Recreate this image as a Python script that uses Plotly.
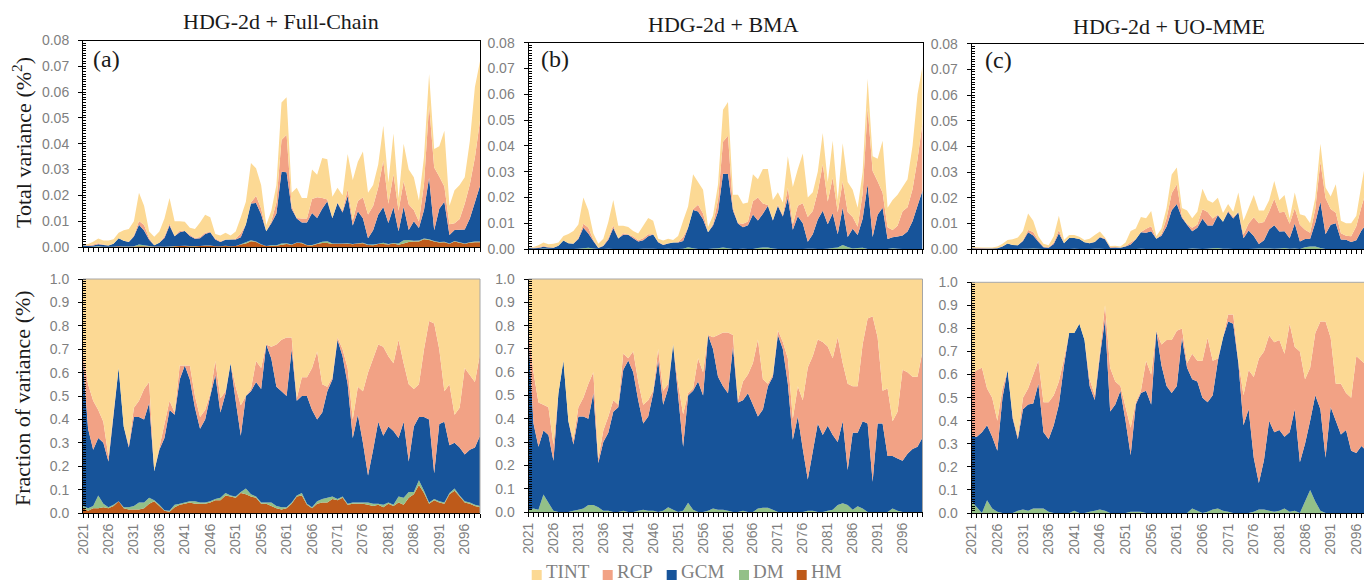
import plotly.graph_objects as go

YEARS = list(range(2021, 2101))
SOURCES = ["HM", "DM", "GCM", "RCP", "TINT"]          # stacking order, bottom to top
COLORS = {"TINT": "#FCD994", "RCP": "#F2A285", "GCM": "#17549A",
          "DM": "#93C088", "HM": "#BE5A1A"}
LEGEND_ORDER = ["TINT", "RCP", "GCM", "DM", "HM"]

# ---- HDG-2d + Full-Chain -------------------------------------------------
TOTAL_A = [0.0010, 0.0012, 0.0020, 0.0033, 0.0025, 0.0025, 0.0030, 0.0055, 0.0065, 0.0070,
           0.0100, 0.0210, 0.0160, 0.0060, 0.0040, 0.0060, 0.0110, 0.0190, 0.0100, 0.0100,
           0.0098, 0.0075, 0.0070, 0.0095, 0.0125, 0.0115, 0.0050, 0.0045, 0.0055, 0.0045,
           0.0060, 0.0115, 0.0175, 0.0325, 0.0305, 0.0240, 0.0085, 0.0140, 0.0240, 0.0560,
           0.0580, 0.0210, 0.0230, 0.0190, 0.0190, 0.0300, 0.0280, 0.0345, 0.0340, 0.0195,
           0.0230, 0.0200, 0.0360, 0.0260, 0.0330, 0.0370, 0.0210, 0.0240, 0.0320, 0.0470,
           0.0250, 0.0440, 0.0190, 0.0400, 0.0300, 0.0270, 0.0180, 0.0350, 0.0670, 0.0380,
           0.0390, 0.0450, 0.0160, 0.0220, 0.0240, 0.0270, 0.0410, 0.0620, 0.0720, 0.0740]
HM_A = [0.020, 0.010, 0.020, 0.020, 0.025, 0.020, 0.030, 0.050, 0.020, 0.015,
        0.015, 0.015, 0.020, 0.040, 0.050, 0.030, 0.010, 0.005, 0.025, 0.035,
        0.040, 0.045, 0.040, 0.040, 0.040, 0.045, 0.055, 0.055, 0.075, 0.070,
        0.065, 0.085, 0.080, 0.070, 0.065, 0.040, 0.040, 0.030, 0.020, 0.015,
        0.020, 0.040, 0.070, 0.075, 0.035, 0.020, 0.040, 0.045, 0.045, 0.060,
        0.055, 0.065, 0.035, 0.040, 0.040, 0.040, 0.035, 0.030, 0.035, 0.025,
        0.040, 0.030, 0.045, 0.035, 0.065, 0.080, 0.120, 0.085, 0.040, 0.055,
        0.045, 0.040, 0.080, 0.095, 0.070, 0.045, 0.040, 0.030, 0.025, 0.020]
DM_A = [0.010, 0.010, 0.010, 0.055, 0.015, 0.005, 0.005, 0.000, 0.005, 0.010,
        0.015, 0.030, 0.025, 0.025, 0.005, 0.005, 0.002, 0.005, 0.010, 0.005,
        0.005, 0.005, 0.010, 0.005, 0.005, 0.005, 0.005, 0.010, 0.010, 0.005,
        0.005, 0.005, 0.025, 0.010, 0.005, 0.005, 0.005, 0.015, 0.010, 0.010,
        0.005, 0.005, 0.005, 0.010, 0.005, 0.005, 0.010, 0.015, 0.020, 0.010,
        0.005, 0.005, 0.005, 0.005, 0.005, 0.005, 0.010, 0.010, 0.005, 0.010,
        0.005, 0.005, 0.025, 0.030, 0.025, 0.010, 0.020, 0.010, 0.005, 0.005,
        0.005, 0.005, 0.005, 0.010, 0.005, 0.005, 0.005, 0.005, 0.005, 0.005]
GCM_A = [0.620, 0.340, 0.240, 0.245, 0.260, 0.195, 0.385, 0.570, 0.345, 0.255,
         0.380, 0.365, 0.355, 0.405, 0.125, 0.235, 0.308, 0.430, 0.385, 0.530,
         0.585, 0.520, 0.400, 0.315, 0.355, 0.450, 0.530, 0.365, 0.425, 0.565,
         0.410, 0.240, 0.395, 0.440, 0.490, 0.485, 0.675, 0.615, 0.510, 0.495,
         0.475, 0.655, 0.405, 0.415, 0.460, 0.415, 0.350, 0.370, 0.455, 0.500,
         0.680, 0.600, 0.510, 0.275, 0.375, 0.255, 0.115, 0.230, 0.350, 0.295,
         0.325, 0.315, 0.250, 0.325, 0.130, 0.280, 0.270, 0.315, 0.355, 0.110,
         0.330, 0.345, 0.205, 0.195, 0.205, 0.200, 0.225, 0.245, 0.300, 0.310]
RCP_A = [0.030, 0.190, 0.210, 0.120, 0.090, 0.020, 0.010, 0.000, 0.000, 0.010,
         0.040, 0.070, 0.130, 0.090, 0.000, 0.010, 0.060, 0.040, 0.010, 0.060,
         0.000, 0.060, 0.050, 0.050, 0.040, 0.010, 0.060, 0.060, 0.010, 0.000,
         0.060, 0.130, 0.000, 0.010, 0.090, 0.090, 0.000, 0.050, 0.180, 0.220,
         0.250, 0.050, 0.010, 0.080, 0.080, 0.180, 0.290, 0.120, 0.020, 0.010,
         0.010, 0.030, 0.070, 0.080, 0.120, 0.220, 0.440, 0.390, 0.330, 0.380,
         0.300, 0.290, 0.420, 0.250, 0.330, 0.160, 0.140, 0.290, 0.420, 0.640,
         0.320, 0.130, 0.260, 0.120, 0.170, 0.370, 0.320, 0.280, 0.350, 0.360]

# ---- HDG-2d + BMA --------------------------------------------------------
TOTAL_B = [0.0005, 0.0008, 0.0015, 0.0025, 0.0018, 0.0020, 0.0025, 0.0050, 0.0058, 0.0070,
           0.0095, 0.0200, 0.0150, 0.0060, 0.0020, 0.0040, 0.0105, 0.0190, 0.0090, 0.0090,
           0.0085, 0.0070, 0.0060, 0.0090, 0.0120, 0.0110, 0.0040, 0.0033, 0.0040, 0.0035,
           0.0050, 0.0110, 0.0165, 0.0290, 0.0260, 0.0230, 0.0085, 0.0130, 0.0250, 0.0540,
           0.0570, 0.0210, 0.0210, 0.0175, 0.0180, 0.0290, 0.0270, 0.0310, 0.0310, 0.0190,
           0.0220, 0.0180, 0.0360, 0.0240, 0.0310, 0.0370, 0.0200, 0.0220, 0.0300, 0.0450,
           0.0260, 0.0420, 0.0190, 0.0410, 0.0260, 0.0230, 0.0160, 0.0300, 0.0660, 0.0360,
           0.0350, 0.0420, 0.0160, 0.0190, 0.0210, 0.0240, 0.0270, 0.0400, 0.0600, 0.0710]
HM_B = [0.0] * len(YEARS)
DM_B = [0.010, 0.015, 0.010, 0.075, 0.040, 0.005, 0.000, 0.000, 0.000, 0.005,
        0.010, 0.015, 0.030, 0.030, 0.020, 0.005, 0.005, 0.000, 0.000, 0.005,
        0.000, 0.000, 0.005, 0.010, 0.005, 0.005, 0.000, 0.005, 0.020, 0.010,
        0.000, 0.005, 0.040, 0.010, 0.000, 0.000, 0.005, 0.015, 0.010, 0.010,
        0.005, 0.000, 0.000, 0.005, 0.000, 0.000, 0.015, 0.018, 0.018, 0.010,
        0.000, 0.000, 0.000, 0.000, 0.000, 0.000, 0.005, 0.005, 0.000, 0.000,
        0.005, 0.010, 0.030, 0.038, 0.030, 0.010, 0.025, 0.015, 0.000, 0.000,
        0.000, 0.000, 0.000, 0.015, 0.005, 0.000, 0.000, 0.000, 0.000, 0.000]
GCM_B = [0.740, 0.365, 0.270, 0.275, 0.290, 0.215, 0.510, 0.650, 0.390, 0.285,
         0.400, 0.395, 0.370, 0.480, 0.190, 0.295, 0.335, 0.430, 0.450, 0.605,
         0.650, 0.600, 0.475, 0.370, 0.405, 0.505, 0.650, 0.455, 0.510, 0.710,
         0.500, 0.275, 0.460, 0.510, 0.560, 0.500, 0.755, 0.685, 0.570, 0.530,
         0.505, 0.710, 0.470, 0.475, 0.510, 0.460, 0.395, 0.422, 0.522, 0.570,
         0.760, 0.700, 0.550, 0.310, 0.410, 0.270, 0.135, 0.255, 0.380, 0.330,
         0.365, 0.320, 0.270, 0.352, 0.150, 0.330, 0.315, 0.375, 0.380, 0.130,
         0.380, 0.380, 0.240, 0.225, 0.225, 0.220, 0.250, 0.270, 0.280, 0.320]
RCP_B = [0.030, 0.220, 0.190, 0.110, 0.120, 0.070, 0.000, 0.000, 0.000, 0.020,
         0.040, 0.080, 0.150, 0.090, 0.020, 0.050, 0.070, 0.050, 0.010, 0.070,
         0.010, 0.090, 0.080, 0.080, 0.070, 0.010, 0.050, 0.060, 0.020, 0.000,
         0.050, 0.140, 0.010, 0.010, 0.100, 0.100, 0.000, 0.050, 0.180, 0.230,
         0.260, 0.050, 0.010, 0.080, 0.080, 0.180, 0.330, 0.130, 0.010, 0.010,
         0.020, 0.030, 0.110, 0.090, 0.130, 0.210, 0.480, 0.410, 0.360, 0.400,
         0.340, 0.330, 0.450, 0.250, 0.370, 0.200, 0.200, 0.330, 0.450, 0.710,
         0.370, 0.140, 0.290, 0.150, 0.200, 0.390, 0.350, 0.310, 0.300, 0.370]

# ---- HDG-2d + UO-MME -----------------------------------------------------
TOTAL_C = [0.0008, 0.0007, 0.0006, 0.0006, 0.0006, 0.0010, 0.0020, 0.0035, 0.0038, 0.0045,
           0.0070, 0.0138, 0.0110, 0.0050, 0.0020, 0.0015, 0.0050, 0.0130, 0.0035, 0.0055,
           0.0055, 0.0048, 0.0035, 0.0040, 0.0055, 0.0068, 0.0045, 0.0012, 0.0013, 0.0010,
           0.0025, 0.0070, 0.0080, 0.0125, 0.0120, 0.0148, 0.0050, 0.0080, 0.0160, 0.0290,
           0.0318, 0.0160, 0.0150, 0.0120, 0.0145, 0.0235, 0.0190, 0.0180, 0.0200, 0.0140,
           0.0175, 0.0145, 0.0220, 0.0110, 0.0160, 0.0210, 0.0150, 0.0150, 0.0190, 0.0265,
           0.0190, 0.0210, 0.0120, 0.0220, 0.0135, 0.0130, 0.0100, 0.0200, 0.0410, 0.0240,
           0.0205, 0.0252, 0.0110, 0.0100, 0.0100, 0.0130, 0.0250, 0.0360, 0.0450, 0.0550]
HM_C = [0.0] * len(YEARS)
DM_C = [0.050, 0.025, 0.000, 0.055, 0.020, 0.005, 0.000, 0.000, 0.000, 0.010,
        0.015, 0.010, 0.020, 0.020, 0.020, 0.005, 0.000, 0.000, 0.000, 0.000,
        0.010, 0.000, 0.000, 0.005, 0.010, 0.015, 0.010, 0.000, 0.000, 0.000,
        0.000, 0.005, 0.005, 0.005, 0.000, 0.000, 0.000, 0.000, 0.000, 0.000,
        0.000, 0.000, 0.000, 0.020, 0.010, 0.000, 0.005, 0.015, 0.020, 0.010,
        0.005, 0.000, 0.000, 0.000, 0.000, 0.005, 0.015, 0.015, 0.010, 0.005,
        0.010, 0.020, 0.005, 0.010, 0.000, 0.050, 0.100, 0.050, 0.010, 0.000,
        0.000, 0.000, 0.000, 0.000, 0.000, 0.000, 0.000, 0.000, 0.000, 0.000]
GCM_C = [0.280, 0.305, 0.350, 0.325, 0.310, 0.265, 0.500, 0.620, 0.410, 0.310,
         0.435, 0.460, 0.455, 0.540, 0.330, 0.315, 0.380, 0.470, 0.640, 0.780,
         0.770, 0.820, 0.750, 0.545, 0.480, 0.665, 0.830, 0.440, 0.470, 0.530,
         0.400, 0.245, 0.465, 0.515, 0.530, 0.470, 0.790, 0.640, 0.550, 0.520,
         0.550, 0.760, 0.630, 0.560, 0.560, 0.500, 0.475, 0.495, 0.640, 0.750,
         0.825, 0.820, 0.650, 0.380, 0.450, 0.235, 0.115, 0.215, 0.390, 0.345,
         0.350, 0.310, 0.345, 0.440, 0.220, 0.250, 0.300, 0.460, 0.440, 0.240,
         0.460, 0.400, 0.340, 0.360, 0.270, 0.260, 0.290, 0.270, 0.280, 0.300]
RCP_C = [0.270, 0.290, 0.280, 0.160, 0.170, 0.130, 0.040, 0.000, 0.010, 0.010,
         0.050, 0.070, 0.125, 0.100, 0.130, 0.160, 0.130, 0.100, 0.030, 0.000,
         0.000, 0.000, 0.000, 0.030, 0.020, 0.020, 0.060, 0.190, 0.100, 0.020,
         0.060, 0.120, 0.010, 0.010, 0.130, 0.130, 0.000, 0.090, 0.200, 0.230,
         0.240, 0.040, 0.020, 0.110, 0.090, 0.160, 0.280, 0.150, 0.010, 0.000,
         0.030, 0.040, 0.010, 0.130, 0.170, 0.350, 0.540, 0.470, 0.370, 0.390,
         0.390, 0.360, 0.470, 0.270, 0.480, 0.280, 0.230, 0.270, 0.380, 0.590,
         0.300, 0.160, 0.220, 0.160, 0.230, 0.420, 0.370, 0.370, 0.340, 0.340]

SERIF = "Liberation Serif, Times New Roman, serif"
SANS = "Liberation Sans, Arial, sans-serif"
GRAY = "#7f7f7f"
W, H = 1364, 583


def px_x(v):
    return v / W


def px_y(v):
    return 1 - v / H


def shares(hm, dm, gcm, rcp):
    tint = [1.0 - (a + b + c + d) for a, b, c, d in zip(hm, dm, gcm, rcp)]
    return {"HM": hm, "DM": dm, "GCM": gcm, "RCP": rcp, "TINT": tint}


PANELS = [
    dict(title="HDG-2d + Full-Chain", tag="(a)", total=TOTAL_A,
         share=shares(HM_A, DM_A, GCM_A, RCP_A), xrange=[2021, 2099],
         xdom=[83, 480], top=[40.5, 247], bot=[279, 513], title_xy=(281, 21.5),
         tag_xy=(91, 59.5), right_border=True),
    dict(title="HDG-2d + BMA", tag="(b)", total=TOTAL_B,
         share=shares(HM_B, DM_B, GCM_B, RCP_B), xrange=[2021, 2100],
         xdom=[528.5, 922.5], top=[42.7, 249], bot=[279, 512], title_xy=(723.5, 24.5),
         tag_xy=(539, 58.5), right_border=True),
    dict(title="HDG-2d + UO-MME", tag="(c)", total=TOTAL_C,
         share=shares(HM_C, DM_C, GCM_C, RCP_C), xrange=[2021, 2097.5],
         xdom=[971.7, 1364], top=[43.7, 249], bot=[282.3, 513], title_xy=(1168.5, 26.5),
         tag_xy=(983, 60), right_border=False),
]

fig = go.Figure()
layout = dict(width=W, height=H, margin=dict(l=0, r=0, t=0, b=0),
              paper_bgcolor="white", plot_bgcolor="white", showlegend=False,
              template="none")
annotations, shapes = [], []

for i, p in enumerate(PANELS):
    n_top, n_bot = i + 1, i + 4
    for row, n in (("top", n_top), ("bot", n_bot)):
        xa, ya = ("x" if n == 1 else f"x{n}"), ("y" if n == 1 else f"y{n}")
        for src in SOURCES:
            s = p["share"][src]
            yv = [t * f for t, f in zip(p["total"], s)] if row == "top" else s
            fig.add_trace(go.Scatter(
                x=YEARS, y=yv, name=src, mode="none", stackgroup=f"{row}{i}",
                fillcolor=COLORS[src], xaxis=xa, yaxis=ya, hoverinfo="skip",
            ))
        dom_px = p["top"] if row == "top" else p["bot"]
        key_x = "xaxis" if n == 1 else f"xaxis{n}"
        key_y = "yaxis" if n == 1 else f"yaxis{n}"
        layout[key_x] = dict(
            domain=[px_x(p["xdom"][0]), px_x(p["xdom"][1])], range=p["xrange"],
            anchor=ya, tickmode="linear", tick0=2021, dtick=5,
            ticks="outside", ticklen=4, tickcolor="black", tickwidth=1,
            showline=True, linecolor="black", linewidth=1,
            mirror=(row == "top"), showgrid=False, zeroline=False,
            showticklabels=(row == "bot"), tickangle=-90,
            tickfont=dict(family=SANS, size=14, color=GRAY),
            minor=dict(tick0=2021, dtick=1, ticks="outside", ticklen=4,
                       tickcolor="black", showgrid=False),
        )
        if row == "top":
            yr, yd, yfmt, ymin = [0, 0.08], 0.01, ".2f", 0.001
        else:
            yr, yd, yfmt, ymin = [0, 1.0], 0.1, ".1f", 0.01
        layout[key_y] = dict(
            domain=[px_y(dom_px[1]), px_y(dom_px[0])], range=yr, anchor=xa,
            tickmode="linear", tick0=0, dtick=yd, tickformat=yfmt,
            ticks="outside", ticklen=4, tickcolor="black",
            showline=True, linecolor="black", linewidth=1,
            mirror=(row == "top" and p["right_border"]),
            showgrid=False, zeroline=False, ticklabelstandoff=6,
            tickfont=dict(family=SANS, size=14, color=GRAY),
            minor=dict(tick0=0, dtick=ymin, ticks="inside", ticklen=3,
                       tickcolor="black", showgrid=False),
        )
        if row == "bot":
            # light frame on the top and right of the fraction panels
            shapes.append(dict(type="line", xref=f"{xa} domain", yref=f"{ya} domain",
                               x0=0, x1=1, y0=1, y1=1,
                               line=dict(color="#a6a6a6", width=1), layer="above"))
            if p["right_border"]:
                shapes.append(dict(type="line", xref=f"{xa} domain", yref=f"{ya} domain",
                                   x0=1, x1=1, y0=0, y1=1,
                                   line=dict(color="#a6a6a6", width=1), layer="above"))

    annotations.append(dict(text=p["title"], x=px_x(p["title_xy"][0]), y=px_y(p["title_xy"][1]),
                            xref="paper", yref="paper", xanchor="center", yanchor="middle",
                            showarrow=False, font=dict(family=SERIF, size=22, color="#1a1a1a")))
    annotations.append(dict(text=p["tag"], x=px_x(p["tag_xy"][0]), y=px_y(p["tag_xy"][1]),
                            xref="paper", yref="paper", xanchor="left", yanchor="middle",
                            showarrow=False, font=dict(family=SERIF, size=24, color="#1a1a1a")))

# y-axis titles of the left column
annotations.append(dict(text="Total variance (%<sup>2</sup>)", x=px_x(22), y=px_y(143),
                        xref="paper", yref="paper", textangle=-90, showarrow=False,
                        xanchor="center", yanchor="middle",
                        font=dict(family=SERIF, size=22, color="#1a1a1a")))
annotations.append(dict(text="Fraction of variance (%)", x=px_x(22), y=px_y(398),
                        xref="paper", yref="paper", textangle=-90, showarrow=False,
                        xanchor="center", yanchor="middle",
                        font=dict(family=SERIF, size=22, color="#1a1a1a")))

# legend row along the bottom edge
legend_left = [531.7, 602.7, 666.7, 739.0, 796.7]
for name, x0 in zip(LEGEND_ORDER, legend_left):
    shapes.append(dict(type="rect", xref="paper", yref="paper",
                       x0=px_x(x0), x1=px_x(x0 + 10), y0=px_y(580), y1=px_y(570),
                       fillcolor=COLORS[name], line=dict(width=0), layer="above"))
    annotations.append(dict(text=name, x=px_x(x0 + 13.5), y=px_y(583), xref="paper", yref="paper",
                            xanchor="left", yanchor="bottom", showarrow=False, borderpad=0,
                            font=dict(family=SERIF, size=19, color=GRAY)))

layout["annotations"] = annotations
layout["shapes"] = shapes
fig.update_layout(**layout)
fig.write_html("out.html")
